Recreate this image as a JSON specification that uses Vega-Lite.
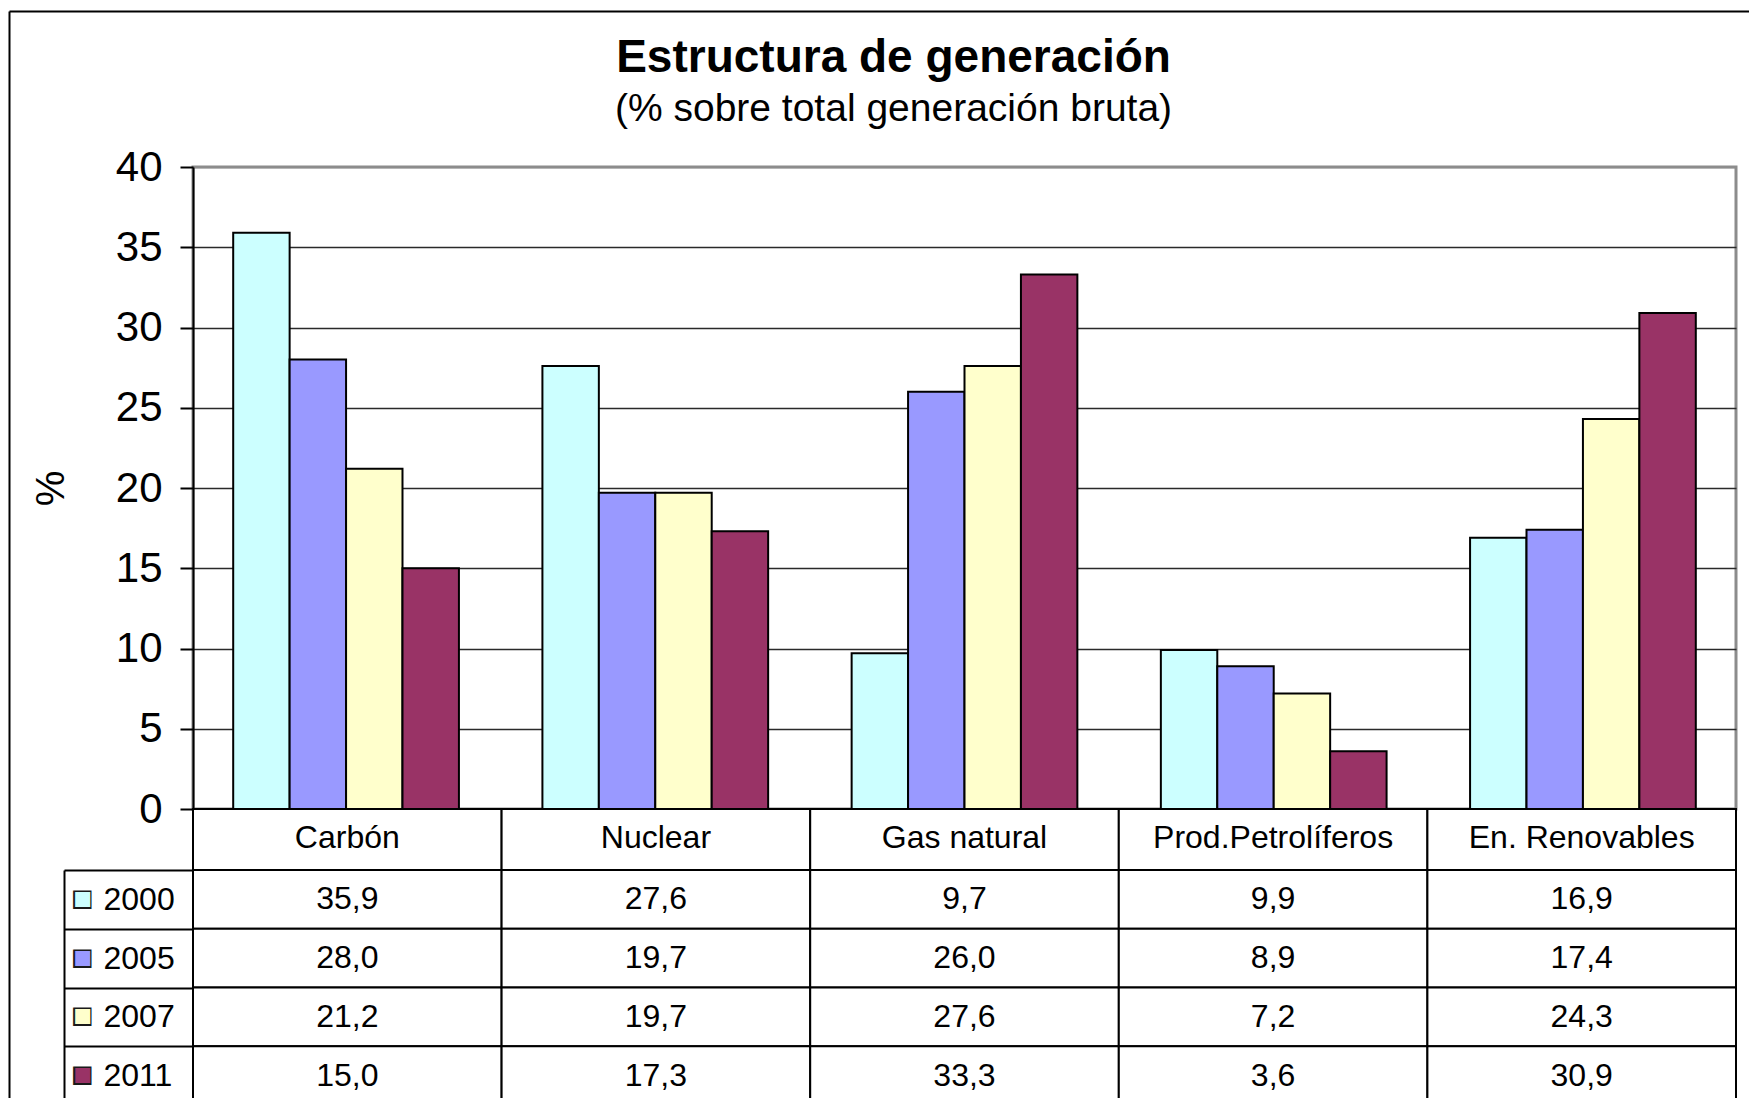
{
  "$schema": "https://vega.github.io/schema/vega-lite/v6.json",
  "autosize": {"type": "none"},
  "padding": {"left": 193, "top": 167, "right": 1556, "bottom": 931},
  "background": "white",
  "datasets": {
    "gen": [
      {"cat": "Carbón", "year": "2000", "value": 35.9},
      {"cat": "Carbón", "year": "2005", "value": 28.0},
      {"cat": "Carbón", "year": "2007", "value": 21.2},
      {"cat": "Carbón", "year": "2011", "value": 15.0},
      {"cat": "Nuclear", "year": "2000", "value": 27.6},
      {"cat": "Nuclear", "year": "2005", "value": 19.7},
      {"cat": "Nuclear", "year": "2007", "value": 19.7},
      {"cat": "Nuclear", "year": "2011", "value": 17.3},
      {"cat": "Gas natural", "year": "2000", "value": 9.7},
      {"cat": "Gas natural", "year": "2005", "value": 26.0},
      {"cat": "Gas natural", "year": "2007", "value": 27.6},
      {"cat": "Gas natural", "year": "2011", "value": 33.3},
      {"cat": "Prod.Petrolíferos", "year": "2000", "value": 9.9},
      {"cat": "Prod.Petrolíferos", "year": "2005", "value": 8.9},
      {"cat": "Prod.Petrolíferos", "year": "2007", "value": 7.2},
      {"cat": "Prod.Petrolíferos", "year": "2011", "value": 3.6},
      {"cat": "En. Renovables", "year": "2000", "value": 16.9},
      {"cat": "En. Renovables", "year": "2005", "value": 17.4},
      {"cat": "En. Renovables", "year": "2007", "value": 24.3},
      {"cat": "En. Renovables", "year": "2011", "value": 30.9}
    ]
  },
  "config": {
    "font": "Liberation Sans",
    "view": {"stroke": null},
    "locale": {"number": {"decimal": ",", "thousands": ".", "grouping": [3], "currency": ["", " €"]}},
    "axis": {"labelFont": "Liberation Sans", "titleFont": "Liberation Sans", "titleColor": "black"}
  },
  "spacing": 0,
  "bounds": "flush",
  "vconcat": [
    {
      "width": 1543,
      "height": 642,
      "data": {"name": "gen"},
      "view": {"stroke": "#8c8c8c", "strokeWidth": 3},
      "title": {
        "text": "Estructura de generación",
        "subtitle": "(% sobre total generación bruta)",
        "anchor": "middle",
        "frame": "group",
        "dx": -71,
        "offset": 16,
        "font": "Liberation Sans",
        "fontSize": 46,
        "fontWeight": "bold",
        "color": "black",
        "subtitleFont": "Liberation Sans",
        "subtitleFontSize": 39,
        "subtitleColor": "black",
        "subtitlePadding": 8
      },
      "mark": {"type": "bar", "stroke": "black", "strokeWidth": 2},
      "encoding": {
        "x": {
          "field": "cat", "type": "nominal",
          "sort": ["Carbón", "Nuclear", "Gas natural", "Prod.Petrolíferos", "En. Renovables"],
          "scale": {"paddingInner": 0.27, "paddingOuter": 0.13},
          "axis": {"title": null, "labels": false, "ticks": false, "grid": false, "domainColor": "black", "domainWidth": 2}
        },
        "xOffset": {
          "field": "year", "type": "nominal",
          "sort": ["2000", "2005", "2007", "2011"],
          "scale": {"paddingInner": 0, "paddingOuter": 0}
        },
        "y": {
          "field": "value", "type": "quantitative",
          "scale": {"domain": [0, 40], "nice": false},
          "axis": {
            "values": [0, 5, 10, 15, 20, 25, 30, 35, 40],
            "title": "%",
            "titleFontSize": 40,
            "titleFontWeight": "normal",
            "titlePadding": 44,
            "labelFontSize": 42,
            "labelColor": "black",
            "labelPadding": 18,
            "tickSize": 13,
            "tickColor": "black",
            "tickWidth": 2,
            "domainColor": "black",
            "domainWidth": 2,
            "grid": true,
            "gridColor": {"condition": {"test": "datum.value >= 40", "value": "#8c8c8c"}, "value": "#2a2a2a"},
            "gridWidth": 1.5
          }
        },
        "color": {
          "field": "year", "type": "nominal",
          "scale": {"domain": ["2000", "2005", "2007", "2011"], "range": ["#CCFFFF", "#9999FF", "#FFFFCC", "#993366"]},
          "legend": null
        }
      }
    },
    {
      "width": 1543,
      "height": 61,
      "data": {"name": "gen"},
      "transform": [{"filter": "datum.year == '2000'"}],
      "layer": [
        {
          "mark": {"type": "rect", "fill": "white", "stroke": "black", "strokeWidth": 2},
          "encoding": {
            "x": {
              "field": "cat", "type": "nominal",
              "sort": ["Carbón", "Nuclear", "Gas natural", "Prod.Petrolíferos", "En. Renovables"],
              "scale": {"paddingInner": 0, "paddingOuter": 0},
              "axis": null
            }
          }
        },
        {
          "mark": {"type": "text", "fontSize": 32, "font": "Liberation Sans", "color": "black", "dy": -2},
          "encoding": {
            "x": {
              "field": "cat", "type": "nominal",
              "sort": ["Carbón", "Nuclear", "Gas natural", "Prod.Petrolíferos", "En. Renovables"],
              "scale": {"paddingInner": 0, "paddingOuter": 0},
              "axis": null
            },
            "text": {"field": "cat", "type": "nominal"}
          }
        }
      ]
    },
    {
      "width": 1543,
      "height": 235,
      "data": {"name": "gen"},
      "resolve": {
        "scale": {"x": "independent", "y": "independent"},
        "axis": {"x": "independent", "y": "independent"}
      },
      "layer": [
        {
          "mark": {"type": "rect", "fill": "white", "stroke": "black", "strokeWidth": 2},
          "encoding": {
            "x": {
              "field": "cat", "type": "nominal",
              "sort": ["Carbón", "Nuclear", "Gas natural", "Prod.Petrolíferos", "En. Renovables"],
              "scale": {"paddingInner": 0, "paddingOuter": 0},
              "axis": null
            },
            "y": {
              "field": "year", "type": "ordinal",
              "sort": ["2000", "2005", "2007", "2011"],
              "scale": {"paddingInner": 0, "paddingOuter": 0},
              "axis": {
                "orient": "left",
                "offset": 129,
                "title": null,
                "domain": true,
                "domainColor": "black",
                "domainWidth": 2,
                "ticks": true,
                "tickBand": "extent",
                "tickExtra": true,
                "tickSize": -129,
                "tickColor": "black",
                "tickWidth": 2,
                "labels": true,
                "labelAlign": "left",
                "labelPadding": 90,
                "labelFontSize": 32,
                "labelColor": "black"
              }
            }
          }
        },
        {
          "mark": {"type": "text", "fontSize": 32, "font": "Liberation Sans", "color": "black"},
          "encoding": {
            "x": {
              "field": "cat", "type": "nominal",
              "sort": ["Carbón", "Nuclear", "Gas natural", "Prod.Petrolíferos", "En. Renovables"],
              "scale": {"paddingInner": 0, "paddingOuter": 0},
              "axis": null
            },
            "y": {
              "field": "year", "type": "ordinal",
              "sort": ["2000", "2005", "2007", "2011"],
              "scale": {"paddingInner": 0, "paddingOuter": 0},
              "axis": {
                "orient": "left",
                "offset": 0,
                "title": null,
                "domain": false,
                "ticks": false,
                "tickSize": 0,
                "zindex": 1,
                "labelAlign": "center",
                "labelPadding": 111,
                "labelFontSize": 38,
                "labelExpr": "'■'",
                "labelColor": "#1a1a1a"
              }
            },
            "text": {"field": "value", "type": "quantitative", "format": ".1f"}
          }
        },
        {
          "mark": {"type": "point", "opacity": 0, "size": 1},
          "encoding": {
            "x": {
              "field": "cat", "type": "nominal",
              "sort": ["Carbón", "Nuclear", "Gas natural", "Prod.Petrolíferos", "En. Renovables"],
              "scale": {"paddingInner": 0, "paddingOuter": 0},
              "axis": null
            },
            "y": {
              "field": "year", "type": "ordinal",
              "sort": ["2000", "2005", "2007", "2011"],
              "scale": {"paddingInner": 0, "paddingOuter": 0},
              "axis": {
                "orient": "left",
                "offset": 0,
                "title": null,
                "domain": false,
                "ticks": false,
                "tickSize": 0,
                "zindex": 2,
                "labelAlign": "center",
                "labelPadding": 111,
                "labelFontSize": 31,
                "labelExpr": "'■'",
                "labelColor": {
                  "condition": [
                    {"test": "datum.value === '2000'", "value": "#CCFFFF"},
                    {"test": "datum.value === '2005'", "value": "#9999FF"},
                    {"test": "datum.value === '2007'", "value": "#FFFFCC"}
                  ],
                  "value": "#993366"
                }
              }
            }
          }
        },
        {
          "mark": {"type": "point", "opacity": 0, "size": 1},
          "encoding": {
            "x": {
              "field": "value", "type": "quantitative",
              "scale": {"domain": [0, 1], "range": [-184, 1600], "nice": false},
              "axis": {"orient": "top", "offset": 859, "title": null, "labels": false, "ticks": false, "grid": false, "domain": true, "domainColor": "black", "domainWidth": 2}
            },
            "y": {
              "field": "value", "type": "quantitative",
              "scale": {"domain": [0, 1], "range": [400, -859], "nice": false},
              "axis": {"orient": "left", "offset": 184, "title": null, "labels": false, "ticks": false, "grid": false, "domain": true, "domainColor": "black", "domainWidth": 2}
            }
          }
        }
      ]
    }
  ]
}
